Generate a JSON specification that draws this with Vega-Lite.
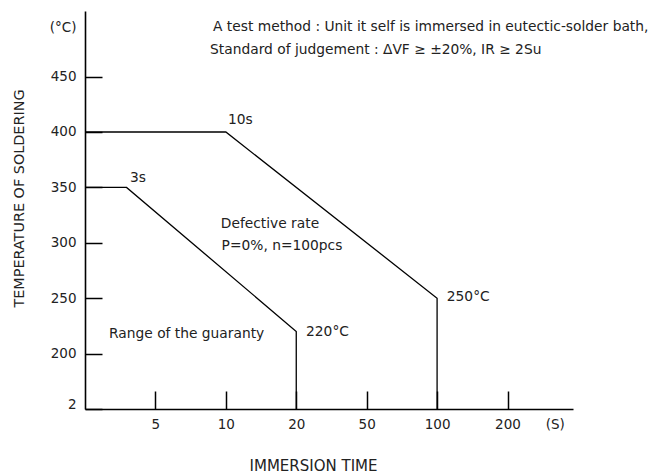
{
  "$schema": "https://vega.github.io/schema/vega-lite/v6.json",
  "autosize": "none",
  "padding": {"left": 85, "top": 11, "right": 77, "bottom": 65},
  "width": 488,
  "height": 398,
  "background": "white",
  "config": {
    "view": {"stroke": null},
    "font": "DejaVu Sans",
    "text": {"font": "DejaVu Sans", "fontSize": 13.8, "color": "#222"}
  },
  "datasets": {
    "curves": [
      {"series": "10s", "pos": 0, "temp": 400},
      {"series": "10s", "pos": 2, "temp": 400},
      {"series": "10s", "pos": 5, "temp": 250},
      {"series": "10s", "pos": 5, "temp": 150},
      {"series": "3s", "pos": 0, "temp": 350},
      {"series": "3s", "pos": 0.59, "temp": 350},
      {"series": "3s", "pos": 3, "temp": 220},
      {"series": "3s", "pos": 3, "temp": 150}
    ],
    "notes": [
      {"label": "A test method : Unit it self is immersed in eutectic-solder bath,", "pos": 1.818, "temp": 494.5},
      {"label": "Standard of judgement : ΔVF ≥ ±20%, IR ≥ 2Su", "pos": 1.776, "temp": 473.7},
      {"label": "10s", "pos": 2.03, "temp": 410.6},
      {"label": "3s", "pos": 0.639, "temp": 358.2},
      {"label": "Defective rate", "pos": 1.928, "temp": 317.3},
      {"label": "P=0%, n=100pcs", "pos": 1.94, "temp": 296.8},
      {"label": "Range of the guaranty", "pos": 0.341, "temp": 217.7},
      {"label": "220°C", "pos": 3.139, "temp": 219.2},
      {"label": "250°C", "pos": 5.138, "temp": 250.8}
    ]
  },
  "layer": [
    {
      "data": {"name": "curves"},
      "mark": {"type": "line", "color": "black", "strokeWidth": 1.3},
      "encoding": {
        "x": {
          "field": "pos", "type": "quantitative",
          "scale": {"domain": [0, 6.93], "nice": false, "zero": false},
          "axis": {
            "values": [1, 2, 3, 4, 5, 6, 6.67],
            "labelExpr": "datum.value == 1 ? '5' : datum.value == 2 ? '10' : datum.value == 3 ? '20' : datum.value == 4 ? '50' : datum.value == 5 ? '100' : datum.value == 6 ? '200' : '(S)'",
            "grid": false,
            "domainColor": "black", "domainWidth": 1.6,
            "tickColor": "black", "tickWidth": 1.5, "tickSize": -18,
            "tickOpacity": {"condition": {"test": "datum.value > 6.5", "value": 0}, "value": 1},
            "labelFont": "DejaVu Sans", "labelFontSize": 13.5, "labelColor": "#222",
            "labelPadding": 26, "labelFlush": false, "labelOverlap": false,
            "title": "IMMERSION TIME",
            "titleFont": "DejaVu Sans", "titleFontSize": 15, "titleFontWeight": "normal", "titleColor": "#222",
            "titleX": 228, "titleY": 56, "titleBaseline": "middle", "titleAnchor": null
          }
        },
        "y": {
          "field": "temp", "type": "quantitative",
          "scale": {"domain": [150, 509.2], "nice": false, "zero": false},
          "axis": {
            "values": [150, 200, 250, 300, 350, 400, 450, 494],
            "labelExpr": "datum.value == 150 ? '2' : datum.value == 494 ? '(°C)' : datum.label",
            "grid": false,
            "domainColor": "black", "domainWidth": 1.6,
            "tickColor": "black", "tickWidth": 1.5, "tickSize": -17,
            "tickOpacity": {"condition": {"test": "datum.value > 460", "value": 0}, "value": 1},
            "labelOffset": {"condition": {"test": "datum.value == 150", "value": -5}, "value": 0},
            "labelFont": "DejaVu Sans", "labelFontSize": 13.5, "labelColor": "#222",
            "labelPadding": 26, "labelFlush": false, "labelOverlap": false,
            "title": "TEMPERATURE OF SOLDERING",
            "titleFont": "DejaVu Sans", "titleFontSize": 14.4, "titleFontWeight": "normal", "titleColor": "#222",
            "titleX": -66, "titleY": 187, "titleBaseline": "middle", "titleAnchor": null, "titleAngle": -90
          }
        },
        "detail": {"field": "series"}
      }
    },
    {
      "data": {"name": "notes"},
      "mark": {"type": "text", "align": "left", "baseline": "middle"},
      "encoding": {
        "x": {"field": "pos", "type": "quantitative"},
        "y": {"field": "temp", "type": "quantitative"},
        "text": {"field": "label"}
      }
    }
  ]
}
